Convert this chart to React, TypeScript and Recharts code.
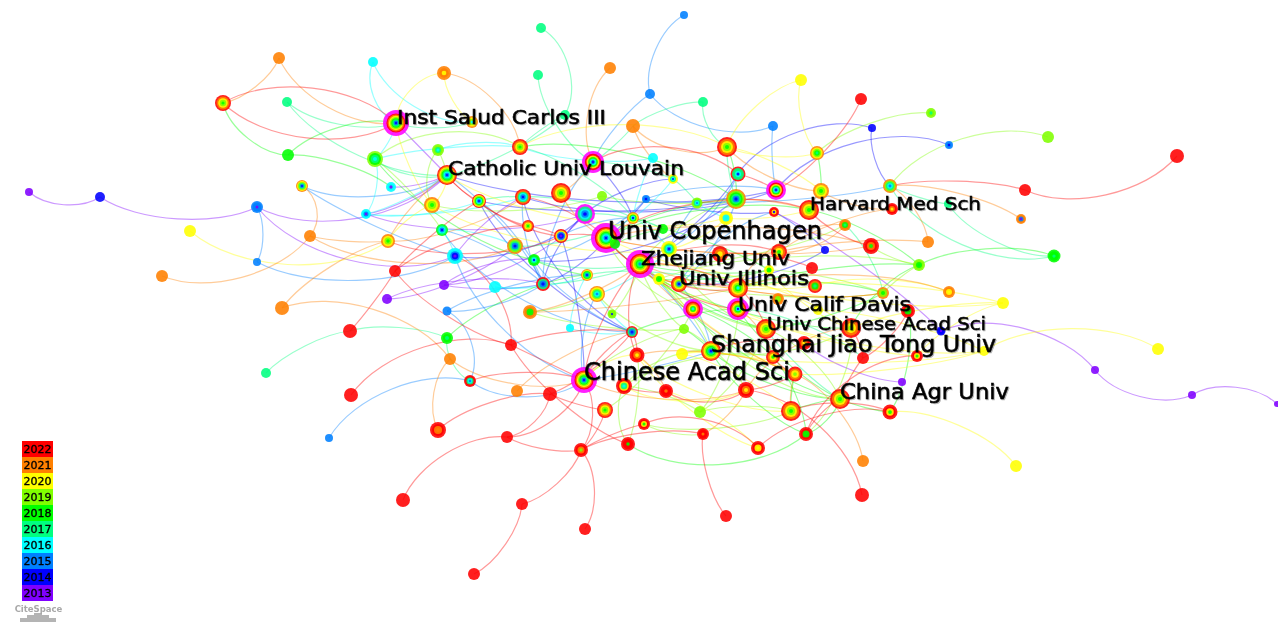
import React from 'react';
import { ComposedChart, Line, Scatter, XAxis, YAxis, ReferenceArea } from 'recharts';

const WIDTH = 1278;
const HEIGHT = 622;

const years = [2022, 2021, 2020, 2019, 2018, 2017, 2016, 2015, 2014, 2013];
const yearColors = ['#ff0000', '#ff8000', '#ffff00', '#80ff00', '#00ff00', '#00ff80', '#00ffff', '#0080ff', '#0000ff', '#8000ff'];
const HUB_COLOR = '#ff00ff';

const nodeX = [
  223, 279, 287, 288, 373, 444, 396, 375, 438, 472,
  520, 447, 302, 257, 391, 366, 432, 479, 442, 388,
  310, 257, 455, 395, 444, 387, 495, 447, 282, 350,
  447, 450, 266, 351, 470, 329, 438, 403, 517, 550,
  511, 507, 522, 585, 474, 581, 162, 190, 100, 29,
  541, 538, 565, 610, 650, 684, 703, 633, 773, 727,
  801, 861, 817, 872, 931, 949, 1048, 1177, 1025, 1021,
  890, 593, 653, 738, 776, 821, 736, 673, 646, 697,
  602, 561, 523, 585, 633, 726, 774, 809, 845, 892,
  948, 928, 871, 825, 919, 1054, 528, 561, 515, 534,
  606, 615, 663, 669, 640, 659, 679, 587, 597, 543,
  530, 612, 570, 632, 720, 779, 769, 812, 738, 815,
  693, 738, 883, 949, 1003, 908, 778, 818, 766, 851,
  941, 684, 682, 711, 637, 804, 773, 863, 917, 984,
  1158, 1095, 1192, 1277, 902, 795, 584, 624, 666, 746,
  700, 605, 644, 703, 791, 840, 890, 758, 806, 628,
  863, 862, 726, 1016,
];

const nodeY = [
  103, 58, 102, 155, 62, 73, 123, 159, 150, 122,
  147, 175, 186, 207, 187, 214, 205, 201, 230, 241,
  236, 262, 256, 271, 285, 299, 287, 311, 308, 331,
  338, 359, 373, 395, 381, 438, 430, 500, 391, 394,
  345, 437, 504, 529, 574, 450, 276, 231, 197, 192,
  28, 75, 115, 68, 94, 15, 102, 126, 126, 147,
  80, 99, 153, 128, 113, 145, 137, 156, 190, 219,
  186, 162, 158, 174, 190, 191, 199, 179, 199, 203,
  196, 193, 197, 214, 218, 218, 212, 210, 225, 209,
  204, 242, 246, 250, 265, 256, 226, 236, 246, 260,
  238, 244, 229, 249, 264, 279, 284, 275, 294, 284,
  312, 314, 328, 332, 254, 252, 270, 268, 288, 286,
  309, 309, 293, 292, 303, 311, 299, 310, 329, 328,
  331, 329, 354, 351, 355, 343, 357, 358, 356, 351,
  349, 370, 395, 404, 382, 374, 380, 386, 391, 390,
  412, 410, 424, 434, 411, 399, 412, 448, 434, 444,
  461, 495, 516, 466,
];

const nodeSize = [
  8, 6, 5, 6, 5, 7, 13, 8, 6, 6,
  8, 10, 6, 6, 5, 5, 8, 7, 6, 7,
  6, 4, 8, 6, 5, 5, 6, 4.5, 7, 7,
  6, 6, 5, 7, 6, 4, 8, 7, 6, 7,
  6, 6, 6, 6, 6, 7, 6, 6, 5, 4,
  5, 5, 5, 6, 5, 4, 5, 7, 5, 10,
  6, 6, 7, 4, 5, 4, 6, 7, 6, 5,
  7, 11, 5, 7.5, 10, 8, 10, 5, 4, 5.5,
  5, 10, 8, 10, 6, 7, 5, 10, 6, 6,
  4, 6, 8, 4, 6, 6.5, 6, 7, 8, 6,
  15, 5, 5, 8, 14, 6, 8, 6, 8, 7,
  7, 4.5, 4, 6, 8, 8, 5, 6, 10, 7,
  10, 11, 6, 6, 6, 7, 6, 5, 10, 10,
  4.5, 5, 6, 10, 7.5, 7, 7, 6, 6, 5,
  6, 4, 4, 3, 4, 7.5, 13, 8, 7, 8,
  6, 8, 6, 6, 10, 10, 7.5, 7, 7, 7,
  6, 7, 6, 6,
];

// outermost ring first, one digit per year (2 = 2022 ... 3 = 2013), m = high centrality
const nodeRings = [
  '21098', '1', '7', '8', '6', '110', 'm21098754', '9876', '9976', '1096',
  '21098', '210987654', '109754', '5553', '663', '6653', '1098', '2098654', '87654', '1098',
  '1', '5', '66543', '2', '3', '3', '6', '5', '1', '2',
  '887', '1', '7', '2', '22765', '5', '2211', '2', '1', '2',
  '2', '2', '2', '2', '2', '2219', '1', '0', '4', '3',
  '7', '7', '7', '1', '5', '5', '7', '1', '5', '21098',
  '0', '2', '10987', '4', '997', '554', '9', '2', '2', '1153',
  '19765', 'm20864', '6', '27764', 'm20864', '1098', '198754', '00764', '554', '99765',
  '9', '21098', '217654', 'm7654', '10864', '0066', '2204', '21098', '1187', '2210',
  '7', '1', '2218', '4', '9988', '8887', '21098', '20543', '19754', '88764',
  'm210987654', '8', '8', '0097654', 'm2109875', '0088', '210954', '108754', '109765', '2754',
  '1188', '9994', '6', '2754', '210', '2108', '0088', '2', '210986', '2187',
  'm21086', 'm2109864', '198', '1100', '0', '2288', '1199', '0', '21098', '2109',
  '4443', '9', '0', '21098754', '2210', '2210', '2108', '2', '2208', '0',
  '0', '3', '3', '3', '3', '2109', 'm21098754', '22076', '2221', '2210',
  '9', '21098', '2208', '2221', '21098', '21098', '2208', '2200', '2288', '2228',
  '1', '2', '2', '0',
];

// [from, to, bend in percent of the chord, + bulges to the left of travel]
const links2022 = [
  [0, 6, 20], [0, 6, -20], [23, 17, 5], [23, 96, 10], [23, 29, 3], [23, 40, -10], [33, 40, 20], [36, 39, 12],
  [37, 41, 20], [40, 159, -10], [39, 41, 20], [41, 146, -20], [41, 45, -10], [39, 151, -5], [146, 45, 20],
  [45, 151, -10], [45, 42, 15], [45, 43, 20], [42, 44, 15], [45, 152, 5], [45, 153, 10], [40, 146, 0],
  [146, 113, 10], [34, 146, 10], [61, 74, 10], [71, 73, 20], [67, 68, 20], [68, 70, -7], [138, 158, -20],
  [152, 157, 20], [157, 156, 15], [149, 161, 20], [153, 162, -12], [147, 148, -10], [148, 149, -20],
  [40, 113, 8], [39, 113, -8], [146, 104, 10], [17, 97, -10], [96, 97, 5], [82, 100, 10], [97, 100, 8],
  [100, 121, -12], [100, 118, -18], [104, 118, 10], [104, 115, 12], [100, 87, 15], [118, 128, 10], [128, 136, -8],
  [133, 135, 10], [129, 137, 8], [125, 137, 10], [137, 155, -5], [145, 149, 8], [136, 145, -10], [154, 156, 12],
  [155, 158, -10], [106, 118, 5], [73, 74, 5], [87, 92, -10], [114, 117, 8], [11, 17, -8], [11, 96, -10],
  [19, 97, -12], [104, 134, -15], [113, 134, 10], [22, 40, 20],
];
const links2021 = [
  [0, 1, -15], [1, 6, -20], [12, 20, 30], [46, 20, -20], [20, 19, -5], [28, 19, 10], [28, 31, 20], [31, 36, -20],
  [31, 146, -15], [38, 113, 10], [53, 71, -20], [57, 59, -20], [57, 77, -10], [69, 70, -10], [91, 70, -15],
  [91, 115, -5], [123, 118, -10], [145, 160, 15], [149, 153, 10], [5, 10, 20], [19, 11, 8], [20, 98, -15],
  [19, 82, -10], [81, 100, -12], [71, 81, 8], [75, 87, -8], [59, 75, -12], [76, 87, 5], [88, 115, 15],
  [100, 115, -5], [100, 92, -6], [104, 122, -8], [118, 122, -6], [110, 118, -3], [110, 104, -8], [129, 149, -15],
  [145, 154, -8], [134, 148, 10], [92, 100, -8], [89, 115, -8], [89, 75, 10], [88, 118, -20],
  [104, 145, -8], [134, 145, 10], [121, 136, 12], [146, 149, -12],
];
const links2020 = [
  [5, 9, -15], [5, 6, -25], [47, 19, -20], [10, 59, 15], [60, 59, -15], [60, 62, -15], [124, 129, -6], [124, 118, -6],
  [123, 119, -10], [140, 139, -17], [139, 145, 5], [124, 138, -10], [163, 156, -15], [6, 16, -8], [16, 103, -10],
  [59, 62, -10], [59, 75, 8], [103, 85, -10], [19, 16, 10], [16, 11, -15], [11, 85, -12], [85, 87, -6], [104, 129, 10],
  [132, 133, 5], [132, 154, 8], [133, 139, -6], [134, 157, -10], [146, 134, 15], [148, 157, 8], [100, 124, -8],
  [105, 119, -5], [116, 129, -10], [105, 138, -6], [127, 139, 6],
  [105, 145, -8], [132, 145, 10], [121, 139, -8], [134, 154, -12], [147, 149, -15],
];
const links2019 = [
  [8, 11, 5], [8, 16, -20], [7, 10, 20], [64, 62, -12], [66, 70, -20], [122, 94, 5], [92, 94, -8], [147, 159, -18],
  [150, 147, -8], [150, 154, 8], [154, 152, 10], [152, 153, -10], [110, 108, -6], [110, 131, -6], [105, 133, 8],
  [104, 131, -10], [131, 146, -10], [100, 120, -15], [104, 76, 10], [105, 122, -6], [105, 94, 8], [103, 128, -15],
  [120, 155, -15], [131, 149, 10], [108, 133, -12], [147, 133, 15], [151, 120, -8], [134, 159, 8], [80, 76, -6],
  [16, 80, -8], [128, 150, 10], [116, 122, 5], [18, 7, -5], [111, 104, -8], [129, 158, 15], [104, 88, -8],
  [133, 129, -12], [121, 150, 10], [128, 155, 12], [105, 128, -10], [147, 136, 12],
];
const links2018 = [
  [0, 3, -20], [3, 6, 15], [3, 14, 10], [94, 95, 12], [94, 87, -8], [159, 158, -20], [154, 155, 5], [158, 155, -15],
  [154, 145, 5], [155, 156, -5], [30, 107, 10], [59, 76, 8], [62, 75, 5], [76, 100, -8], [87, 100, -10], [118, 94, 6],
  [129, 94, 12], [100, 128, -10], [104, 128, -6], [133, 155, -10], [121, 155, -8], [101, 102, 5], [102, 116, 5],
  [105, 116, -5], [118, 122, 8], [128, 122, -6], [125, 156, 12], [104, 116, -6], [105, 155, -10], [136, 158, 10],
  [10, 76, 12], [7, 99, -10], [99, 107, -5], [113, 121, 6], [131, 133, 5],
  [105, 129, -8], [120, 136, 8], [133, 158, -10],
];
const links2017 = [
  [2, 6, -15], [2, 11, -15], [7, 11, -15], [6, 9, -10], [32, 29, 10], [29, 30, 10], [30, 34, -20], [50, 52, 25],
  [51, 71, -15], [52, 10, -5], [52, 11, 8], [56, 57, -10], [56, 59, -20], [57, 71, 5], [90, 70, 5], [95, 90, 15],
  [95, 70, 20], [88, 122, 10], [121, 137, 10], [128, 155, -6], [107, 118, 8], [98, 84, -8], [84, 102, 6], [83, 102, 8],
  [10, 84, 10], [59, 76, -6], [71, 77, 6], [77, 79, 5], [99, 104, -8], [109, 104, -6], [17, 84, 10],
];
const links2016 = [
  [4, 6, -25], [4, 9, -20], [6, 7, 10], [7, 10, 5], [7, 15, 15], [8, 10, 10], [15, 11, -6], [15, 17, -8], [18, 22, 6],
  [72, 84, -5], [72, 10, 8], [26, 107, -8], [26, 109, -6], [112, 113, -8], [112, 107, 8], [85, 79, 5], [103, 108, 8],
  [84, 103, 8], [15, 82, -6], [18, 98, 8], [77, 84, 5], [108, 113, -8],
];
const links2015 = [
  [12, 11, -15], [12, 22, -5], [13, 21, 15], [21, 22, -15], [35, 34, 20], [34, 146, -20], [27, 34, 25], [54, 55, 20],
  [54, 71, -8], [54, 58, -20], [58, 74, -5], [146, 133, -3], [27, 109, -10], [27, 107, 8], [22, 146, -15], [11, 109, 8],
  [82, 109, -10], [71, 109, -12], [78, 99, 10], [78, 74, 8], [78, 70, -5], [73, 103, 10], [86, 106, -12], [18, 113, -15],
  [18, 109, 8], [17, 109, 10], [84, 97, -8], [133, 104, -5], [106, 133, 10], [108, 146, -12], [103, 79, 5], [76, 106, 10],
  [99, 113, -10],
];
const links2014 = [
  [63, 73, -20], [63, 70, -15], [65, 74, -20], [97, 146, 5], [83, 109, -10], [71, 84, 8], [77, 83, -10], [82, 113, -15],
  [17, 113, -12], [78, 100, 5], [78, 86, -6], [17, 76, -6], [11, 74, -8], [86, 93, 5], [73, 104, 8], [22, 83, -15],
  [109, 100, -10], [106, 93, -10], [76, 99, 12], [82, 74, -10],
];
const links2013 = [
  [49, 48, -20], [48, 13, -15], [13, 11, -20], [13, 22, -20], [6, 11, 0], [130, 141, 20], [141, 142, -20], [142, 143, 20],
  [130, 86, -5], [144, 135, 10], [14, 11, -8], [15, 11, -8], [24, 109, -6], [25, 98, -10], [25, 109, 10], [24, 83, -12],
  [22, 82, 8], [15, 83, -10], [24, 99, 12],
];
const linkGroups = [links2013, links2014, links2015, links2016, links2017, links2018, links2019, links2020, links2021, links2022];

const labelNames = [
  'Inst Salud Carlos III', 'Catholic Univ Louvain', 'Harvard Med Sch', 'Univ Copenhagen', 'Zhejiang Univ', 'Univ Illinois',
  'Univ Calif Davis', 'Univ Chinese Acad Sci', 'Shanghai Jiao Tong Univ', 'Chinese Acad Sci', 'China Agr Univ',
];
const labelX = [397, 448, 810, 608, 641, 679, 738, 767, 711, 584, 840];
const labelY = [117, 168, 203, 231, 258, 278, 304, 323, 344, 372, 392];
const labelRight = [606, 684, 981, 822, 790, 809, 911, 986, 996, 790, 1009];
const labelFont = [19.5, 20, 18, 24, 20, 19.5, 20, 18.5, 23, 24, 21];

const logoLeft = [20, 27, 34, 42, 49];
const logoRight = [27, 34, 42, 49, 56];
const logoTop = [618, 615, 613, 615, 618];

// one table per kind of mark, all built from the arrays above
const discs = nodeX.flatMap((x, i) => {
  const rings = nodeRings[i];
  const size = nodeSize[i];
  const hub = rings[0] === 'm';
  const plain = hub ? rings.slice(1) : rings;
  const inner = hub ? size * 0.74 : size;
  const list = plain.split('').map((code, k) => {
    const year = code < '3' ? 2020 + Number(code) : 2010 + Number(code);
    return { x, y: nodeY[i], r: (inner * (plain.length - k)) / plain.length, fill: yearColors[years.indexOf(year)] };
  });
  return hub ? [{ x, y: nodeY[i], r: size, fill: HUB_COLOR }, ...list] : list;
});

const labelRows = labelNames.map((name, i) => ({
  x: labelX[i],
  y: labelY[i],
  name,
  font: labelFont[i],
  len: labelRight[i] - labelX[i],
}));

// curve factory for <Line type>: a symmetric arc between the two end points
const arcCurve = (bend: number) => (context: any) => {
  let points: number[][] = [];
  return {
    areaStart() {},
    areaEnd() {},
    lineStart() {
      points = [];
    },
    point(x: number, y: number) {
      points.push([x, y]);
    },
    lineEnd() {
      const [[ax, ay], [bx, by]] = points;
      const dx = bx - ax;
      const dy = by - ay;
      const k = (bend / 100) * 0.96;
      context.moveTo(ax, ay);
      context.bezierCurveTo(ax + dx / 4 + k * dy, ay + dy / 4 - k * dx, bx - dx / 4 + k * dy, by - dy / 4 - k * dx, bx, by);
    },
  };
};

const Disc = (props: any) => (
  <circle cx={props.cx} cy={props.cy} r={props.payload.r} fill={props.payload.fill} fillOpacity={0.88} />
);

const NodeLabel = (props: any) => (
  <text
    x={props.cx}
    y={props.cy}
    dominantBaseline="central"
    fontFamily="DejaVu Sans"
    fontSize={props.payload.font}
    fill="#000"
    stroke="#000"
    strokeWidth={0.55}
    textLength={props.payload.len}
    lengthAdjust="spacingAndGlyphs"
    style={{ filter: 'drop-shadow(1px 1px 0.6px rgba(0,0,0,0.3))' }}
  >
    {props.payload.name}
  </text>
);

const App = () => {
  return (
    <div style={{ position: 'absolute', left: 0, top: 0, width: WIDTH, height: HEIGHT, background: '#fff', filter: 'blur(0.35px)' }}>
      <ComposedChart width={WIDTH} height={HEIGHT} margin={{ top: 0, right: 0, bottom: 0, left: 0 }}>
        <XAxis type="number" dataKey="x" domain={[0, WIDTH]} hide allowDataOverflow />
        <YAxis type="number" dataKey="y" domain={[0, HEIGHT]} reversed hide allowDataOverflow />
        {linkGroups.map((group, g) =>
          group.map(([from, to, bend], i) => (
            <Line
              key={`link-${g}-${i}`}
              data={[
                { x: nodeX[from], y: nodeY[from] },
                { x: nodeX[to], y: nodeY[to] },
              ]}
              dataKey="y"
              type={arcCurve(bend) as any}
              stroke={yearColors[9 - g]}
              strokeOpacity={0.4}
              strokeWidth={1.2}
              dot={false}
              activeDot={false}
              legendType="none"
              isAnimationActive={false}
            />
          ))
        )}
        <Scatter data={discs} dataKey="y" shape={Disc} isAnimationActive={false} />
        <Scatter data={labelRows} dataKey="y" shape={NodeLabel} isAnimationActive={false} />
        {years.map((year, i) => (
          <ReferenceArea
            key={year}
            x1={22}
            x2={53}
            y1={441 + i * 16}
            y2={457 + i * 16}
            fill={yearColors[i]}
            fillOpacity={1}
            stroke="none"
            label={{ value: String(year), position: 'center', fontSize: 11, fontFamily: 'DejaVu Sans', fill: '#000', stroke: '#000', strokeWidth: 0.3 }}
          />
        ))}
        <ReferenceArea
          x1={15}
          x2={62}
          y1={604}
          y2={613}
          fill="#fff"
          fillOpacity={0}
          stroke="none"
          label={{ value: 'CiteSpace', position: 'center', fontSize: 8.5, fontWeight: 700, fontFamily: 'DejaVu Sans', fill: '#a8a8a8' }}
        />
        {logoLeft.map((left, i) => (
          <ReferenceArea
            key={left}
            x1={left}
            x2={logoRight[i]}
            y1={logoTop[i]}
            y2={622}
            fill="#b4b4b4"
            fillOpacity={1}
            stroke="none"
          />
        ))}
      </ComposedChart>
    </div>
  );
};

export default App;
